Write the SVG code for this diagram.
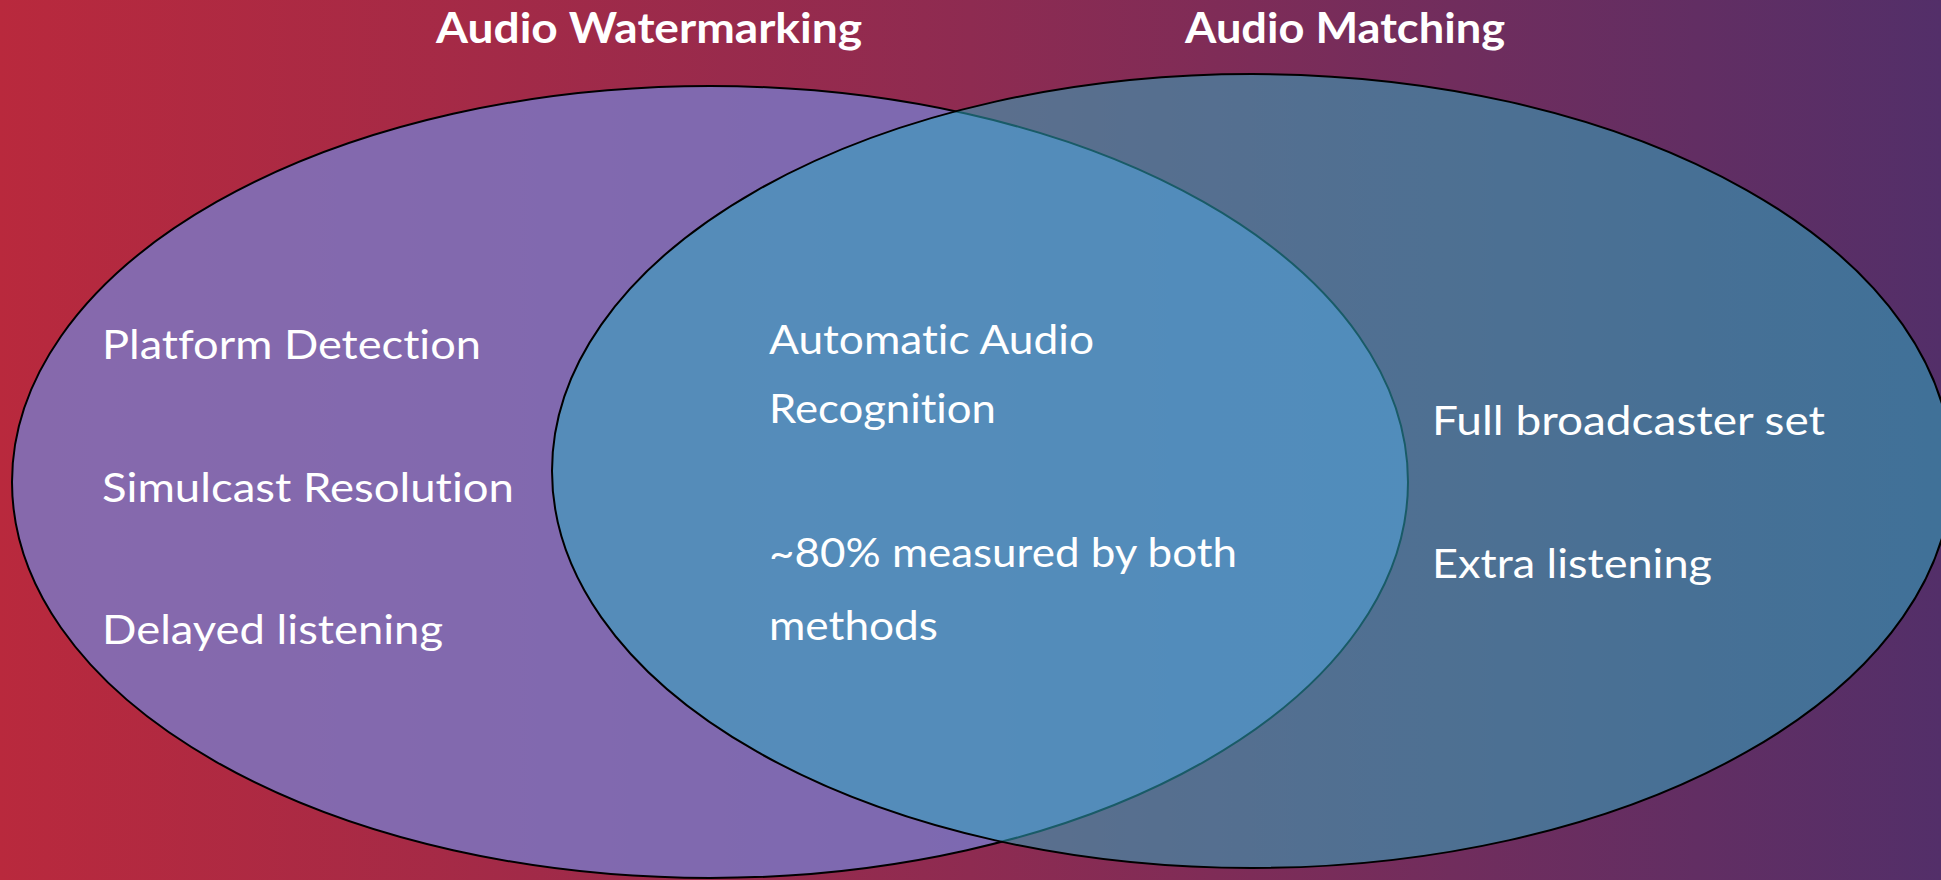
<svg xmlns="http://www.w3.org/2000/svg" width="1941" height="880" viewBox="0 0 1941 880">
  <defs>
    <linearGradient id="bg" x1="0" y1="0" x2="1" y2="0">
      <stop offset="0" stop-color="#B9293D"/>
      <stop offset="0.5" stop-color="#8E2B51"/>
      <stop offset="1" stop-color="#532F69"/>
    </linearGradient>
  </defs>
  <style>
    .title { font-family: Lato, "Liberation Sans", sans-serif; font-weight: 700; font-size: 42px; fill: #FFFFFF; font-variant-ligatures: none; }
    .label { font-family: Lato, "Liberation Sans", sans-serif; font-size: 41px; fill: #FFFFFF; font-variant-ligatures: none; }
    .set { stroke: #000000; stroke-width: 2; }
    #set-watermarking ellipse { fill: #797BCC; fill-opacity: 0.78; }
    #set-matching ellipse { fill: #30ACC3; fill-opacity: 0.53; }
  </style>
  <rect x="0" y="0" width="1941" height="880" fill="url(#bg)"/>
  <g id="set-watermarking">
    <ellipse class="set" cx="710" cy="482" rx="698" ry="396"/>
    <text class="title" x="436" y="43" textLength="426" lengthAdjust="spacingAndGlyphs">Audio Watermarking</text>
    <text class="label" x="102" y="359" textLength="379" lengthAdjust="spacingAndGlyphs">Platform Detection</text>
    <text class="label" x="102" y="502" textLength="412" lengthAdjust="spacingAndGlyphs">Simulcast Resolution</text>
    <text class="label" x="102" y="644" textLength="341" lengthAdjust="spacingAndGlyphs">Delayed listening</text>
  </g>
  <g id="set-matching">
    <ellipse class="set" cx="1252" cy="471" rx="700" ry="397"/>
    <text class="title" x="1185" y="43" textLength="320" lengthAdjust="spacingAndGlyphs">Audio Matching</text>
    <text class="label" x="1432" y="435" textLength="393" lengthAdjust="spacingAndGlyphs">Full broadcaster set</text>
    <text class="label" x="1432" y="578" textLength="280" lengthAdjust="spacingAndGlyphs">Extra listening</text>
  </g>
  <g id="overlap">
    <text class="label" x="769" y="354" textLength="325" lengthAdjust="spacingAndGlyphs">Automatic Audio</text>
    <text class="label" x="769" y="423" textLength="227" lengthAdjust="spacingAndGlyphs">Recognition</text>
    <text class="label" x="769" y="567" textLength="468" lengthAdjust="spacingAndGlyphs">~80% measured by both</text>
    <text class="label" x="769" y="640" textLength="169" lengthAdjust="spacingAndGlyphs">methods</text>
  </g>
  <g id="connectors"/>
</svg>
